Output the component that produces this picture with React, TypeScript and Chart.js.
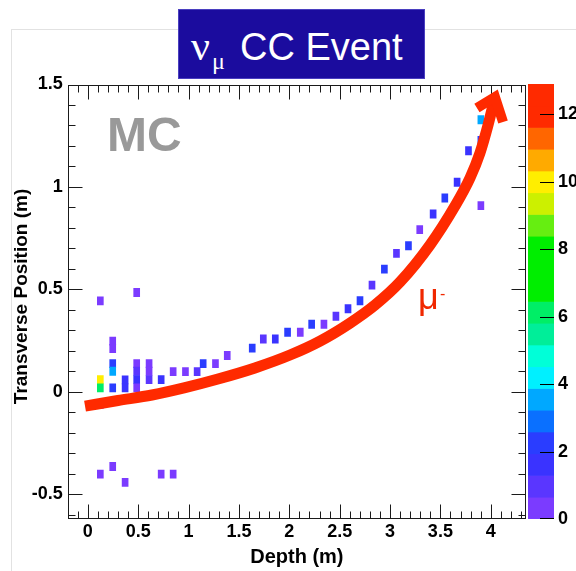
import React, { useEffect, useRef } from 'react';
import { Chart, registerables } from 'chart.js';

Chart.register(...registerables);

// ---- Data ----
const hitDepth = [
  0.124, 0.124, 0.124, 0.124, 0.124,
  0.247, 0.247, 0.247, 0.247, 0.247, 0.247,
  0.370, 0.370, 0.370,
  0.485, 0.485, 0.485, 0.485, 0.485,
  0.608, 0.608, 0.608,
  0.728, 0.728,
  0.847, 0.847,
  0.969, 1.085, 1.145, 1.267, 1.384, 1.632,
  1.742, 1.861, 1.983, 2.109, 2.222, 2.344, 2.463, 2.583, 2.702, 2.821, 2.944, 3.064, 3.183, 3.295, 3.428, 3.544, 3.666, 3.779,
  3.902, 3.902, 3.902,
];
const hitTransverse = [
  0.444, 0.060, 0.020, -0.060, -0.401,
  0.248, 0.212, 0.138, 0.101, 0.020, -0.364,
  0.059, 0.020, -0.441,
  0.485, 0.138, 0.101, 0.060, 0.020,
  0.138, 0.101, 0.060,
  0.060, -0.401,
  0.099, -0.401,
  0.099, 0.099, 0.138, 0.138, 0.178, 0.214,
  0.258, 0.258, 0.291, 0.291, 0.330, 0.330, 0.369, 0.406, 0.445, 0.521, 0.599, 0.676, 0.713, 0.792, 0.868, 0.946, 1.023, 1.177,
  0.909, 1.227, 1.328,
];
const hitCharge = [
  0.3, 10.0, 6.1, 0.3, 0.3,
  0.3, 0.3, 2.3, 3.5, 2.2, 0.3,
  1.6, 1.6, 0.3,
  0.3, 0.3, 1.0, 1.6, 0.3,
  0.3, 0.3, 1.0,
  1.6, 0.3,
  0.3, 0.3,
  0.3, 1.0, 2.2, 0.3, 0.3, 2.2,
  1.0, 1.6, 2.2, 0.3, 2.2, 0.3, 1.0, 1.6, 2.2, 1.0, 2.2, 1.0, 2.2, 0.3, 1.6, 2.2, 1.6, 1.6,
  0.3, 2.2, 3.5,
];

const muonDepth = [-0.028, 0.299, 0.637, 0.965, 1.292, 1.659, 2.007, 2.305, 2.603, 2.851, 3.099, 3.397, 3.645, 3.794, 3.893, 3.973, 4.032];
const muonTransverse = [-0.069, -0.042, -0.015, 0.021, 0.063, 0.117, 0.180, 0.248, 0.336, 0.424, 0.536, 0.717, 0.907, 1.044, 1.166, 1.302, 1.419];
const arrowHeadDepth = [3.863, 4.042, 4.122];
const arrowHeadTransverse = [1.385, 1.439, 1.317];

const xTickValues = [0, 0.5, 1, 1.5, 2, 2.5, 3, 3.5, 4];
const xTickLabels = ['0', '0.5', '1', '1.5', '2', '2.5', '3', '3.5', '4'];
const yTickValues = [-0.5, 0, 0.5, 1, 1.5];
const yTickLabels = ['-0.5', '0', '0.5', '1', '1.5'];
const zTickValues = [0, 2, 4, 6, 8, 10, 12];
const zTickLabels = ['0', '2', '4', '6', '8', '10', '12'];

const X_MIN = -0.2;
const X_MAX = 4.35;
const Y_MIN = -0.62;
const Y_MAX = 1.5;
const Z_MAX = 12.9;
const N_CONTOURS = 20;
const CELL_HALF = 0.02;

const palette = [
  '#7b3bff', '#5a36ff', '#3a33ff', '#2a3dff', '#0a70ff',
  '#00a8ff', '#00f0ff', '#00ffd8', '#00ee99', '#00ee66',
  '#00ee00', '#00ee00', '#00ee00', '#66ee11', '#ccf000',
  '#ffee00', '#ffaa00', '#ff6600', '#ff2a00', '#ff2a00',
];

const RED = '#ff2a00';
const FONT = "'Liberation Sans', Arial, Helvetica, sans-serif";

function colorFor(v: number) {
  const k = Math.min(N_CONTOURS - 1, Math.max(0, Math.floor(v / (Z_MAX / N_CONTOURS))));
  return palette[k];
}

function labelFor(values: number[], labels: string[], v: number) {
  for (let i = 0; i < values.length; i++) if (Math.abs(values[i] - v) < 1e-6) return labels[i];
  return '';
}

const frameTicksPlugin = {
  id: 'rootFrame',
  beforeDatasetsDraw(chart: any) {
    const { ctx, chartArea: a, scales } = chart;
    const x = scales.x, y = scales.y;
    ctx.save();
    ctx.strokeStyle = '#1a1a1a';
    ctx.lineWidth = 1;
    const L = Math.round(a.left) + 0.5, R = Math.round(a.right) - 0.5;
    const T = Math.round(a.top) + 0.5, B = Math.round(a.bottom) - 0.5;
    ctx.strokeRect(L, T, R - L, B - T);
    ctx.beginPath();
    for (let i = Math.ceil(X_MIN * 10 - 1e-6); i <= Math.floor(X_MAX * 10 + 1e-6); i++) {
      const px = Math.round(x.getPixelForValue(i / 10)) + 0.5;
      const len = i % 5 === 0 ? 14 : 7;
      ctx.moveTo(px, B); ctx.lineTo(px, B - len);
      ctx.moveTo(px, T); ctx.lineTo(px, T + len);
    }
    for (let i = Math.ceil(Y_MIN * 10 - 1e-6); i <= Math.floor(Y_MAX * 10 + 1e-6); i++) {
      const py = Math.round(y.getPixelForValue(i / 10)) + 0.5;
      const len = i % 5 === 0 ? 14 : 7;
      ctx.moveTo(L, py); ctx.lineTo(L + len, py);
      ctx.moveTo(R, py); ctx.lineTo(R - len, py);
    }
    ctx.stroke();
    ctx.restore();
  },
};

const colorbarTicksPlugin = {
  id: 'paletteTicks',
  afterDatasetsDraw(chart: any) {
    const { ctx, chartArea: a, scales } = chart;
    ctx.save();
    ctx.strokeStyle = '#000';
    ctx.lineWidth = 1;
    ctx.beginPath();
    zTickValues.forEach((v) => {
      let py = Math.round(scales.y.getPixelForValue(v)) + 0.5;
      if (py > a.bottom) py = a.bottom - 0.5;
      ctx.moveTo(a.right - 14, py);
      ctx.lineTo(a.right, py);
    });
    ctx.stroke();
    ctx.restore();
  },
};

export default function App() {
  const mainRef = useRef<HTMLCanvasElement | null>(null);
  const barRef = useRef<HTMLCanvasElement | null>(null);

  useEffect(() => {
    const cells = hitDepth.map((d, i) => ({ x: d, y: [hitTransverse[i] - CELL_HALF, hitTransverse[i] + CELL_HALF] }));
    const cellColors = hitCharge.map((v) => colorFor(v));
    const muon = muonDepth.map((d, i) => ({ x: d, y: muonTransverse[i] }));
    const head = arrowHeadDepth.map((d, i) => ({ x: d, y: arrowHeadTransverse[i] }));

    const main = new Chart(mainRef.current as HTMLCanvasElement, {
      type: 'bar',
      data: {
        datasets: [
          {
            type: 'line',
            data: head,
            borderColor: RED,
            borderWidth: 10,
            pointRadius: 0,
            tension: 0,
            borderJoinStyle: 'miter',
            borderCapStyle: 'butt',
            order: 0,
            clip: false,
          } as any,
          {
            type: 'line',
            data: muon,
            borderColor: RED,
            borderWidth: 11,
            pointRadius: 0,
            cubicInterpolationMode: 'monotone',
            borderCapStyle: 'butt',
            order: 1,
            clip: false,
          } as any,
          {
            type: 'bar',
            data: cells,
            backgroundColor: cellColors,
            borderWidth: 0,
            borderSkipped: false,
            barThickness: 6,
            grouped: false,
            order: 2,
          } as any,
        ],
      },
      options: {
        responsive: false,
        animation: false,
        events: [],
        layout: { padding: { left: 0, top: 84.5, right: 50, bottom: 0 } },
        plugins: { legend: { display: false }, tooltip: { enabled: false } },
        scales: {
          x: {
            type: 'linear',
            min: X_MIN,
            max: X_MAX,
            offset: false,
            grid: { display: false, drawTicks: false },
            border: { display: false },
            ticks: {
              stepSize: 0.5,
              includeBounds: false,
              autoSkip: false,
              maxRotation: 0,
              padding: 2,
              color: '#000',
              font: { family: FONT, size: 18, weight: 'bold' },
              callback: (v: any) => labelFor(xTickValues, xTickLabels, Number(v)),
            },
            title: {
              display: true,
              text: 'Depth (m)',
              color: '#000',
              font: { family: FONT, size: 20, weight: 'bold' },
              padding: { top: 0, bottom: 2 },
            },
            afterFit: (s: any) => { s.height = 52; },
          },
          y: {
            type: 'linear',
            min: Y_MIN,
            max: Y_MAX,
            grid: { display: false, drawTicks: false },
            border: { display: false },
            ticks: {
              stepSize: 0.5,
              includeBounds: false,
              autoSkip: false,
              padding: 5,
              color: '#000',
              font: { family: FONT, size: 18, weight: 'bold' },
              callback: (v: any) => labelFor(yTickValues, yTickLabels, Number(v)),
            },
            title: {
              display: true,
              text: '  Transverse Position (m)',
              color: '#000',
              font: { family: FONT, size: 19, weight: 'bold' },
              padding: { top: 10, bottom: 0 },
            },
            afterFit: (s: any) => { s.width = 67.7; },
          },
        },
      } as any,
      plugins: [frameTicksPlugin],
    });

    const bands = palette.map((_, i) => ({ x: 0, y: [(i * Z_MAX) / N_CONTOURS, ((i + 1) * Z_MAX) / N_CONTOURS] }));
    const bar = new Chart(barRef.current as HTMLCanvasElement, {
      type: 'bar',
      data: {
        datasets: [
          {
            data: bands,
            backgroundColor: palette,
            borderWidth: 0,
            borderSkipped: false,
            barThickness: 26,
            grouped: false,
          } as any,
        ],
      },
      options: {
        responsive: false,
        animation: false,
        events: [],
        layout: { padding: { left: 0, top: 84, right: 0, bottom: 52 } },
        plugins: { legend: { display: false }, tooltip: { enabled: false } },
        scales: {
          x: { type: 'linear', min: -1, max: 1, offset: false, display: false },
          y: {
            type: 'linear',
            position: 'right',
            min: 0,
            max: Z_MAX,
            grid: { display: false, drawTicks: false },
            border: { display: false },
            ticks: {
              stepSize: 2,
              includeBounds: false,
              autoSkip: false,
              padding: 4,
              color: '#000',
              font: { family: FONT, size: 18, weight: 'bold' },
              callback: (v: any) => labelFor(zTickValues, zTickLabels, Number(v)),
            },
            afterFit: (s: any) => { s.width = 22; },
          },
        },
      } as any,
      plugins: [colorbarTicksPlugin],
    });

    return () => {
      main.destroy();
      bar.destroy();
    };
  }, []);

  return (
    <div style={{ position: 'absolute', left: 0, top: 0, width: 576, height: 571, background: '#fff', overflow: 'hidden' }}>
      <div style={{ position: 'absolute', left: 11, top: 29, width: 565, height: 542, borderLeft: '1px solid #e2e2e2', borderTop: '1px solid #e2e2e2' }} />
      <canvas ref={mainRef} width={576} height={571} style={{ position: 'absolute', left: 0, top: 0 }} />
      <canvas ref={barRef} width={48} height={571} style={{ position: 'absolute', left: 528, top: 0 }} />
      <div style={{ position: 'absolute', left: 178, top: 9, width: 247, height: 70, boxSizing: 'border-box', background: '#1b0c9e', border: '1px solid #4a3fc0' }} />
      <span style={{ position: 'absolute', left: 191, top: 24.8, fontFamily: "'Liberation Serif', 'Times New Roman', serif", fontSize: 42, lineHeight: '42px', color: '#fff', whiteSpace: 'nowrap' }}>ν</span>
      <span style={{ position: 'absolute', left: 212, top: 48.9, fontFamily: "'Liberation Serif', 'Times New Roman', serif", fontSize: 24, lineHeight: '24px', color: '#fff', whiteSpace: 'nowrap' }}>μ</span>
      <span style={{ position: 'absolute', left: 240, top: 28.3, fontFamily: FONT, fontSize: 38, lineHeight: '38px', color: '#fff', whiteSpace: 'nowrap' }}>CC Event</span>
      <span style={{ position: 'absolute', left: 107, top: 111.4, fontFamily: FONT, fontWeight: 'bold', fontSize: 48, lineHeight: '48px', color: '#999999', whiteSpace: 'nowrap' }}>MC</span>
      <span style={{ position: 'absolute', left: 418, top: 279, fontFamily: FONT, fontSize: 36, lineHeight: '36px', color: '#f02800', whiteSpace: 'nowrap' }}>μ</span>
      <span style={{ position: 'absolute', left: 440, top: 286, fontFamily: FONT, fontSize: 16, lineHeight: '16px', color: '#f02800', whiteSpace: 'nowrap' }}>-</span>
    </div>
  );
}
